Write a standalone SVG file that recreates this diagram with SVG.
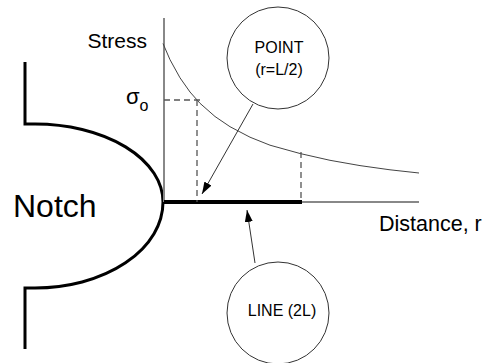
<svg xmlns="http://www.w3.org/2000/svg" width="484" height="363" viewBox="0 0 484 363">
<style>
text{font-family:"Liberation Sans",Arial,sans-serif;fill:#000}
.notch{fill:none;stroke:#000;stroke-width:3}
.axis{stroke:#888;stroke-width:2;fill:none}
.dash{stroke:#555;stroke-width:1.3;stroke-dasharray:6 4;fill:none}
.bubble{fill:#fff;stroke:#333;stroke-width:1}
.lead{stroke:#333;stroke-width:1;fill:none}
</style>
<defs>
<marker id="ah" viewBox="0 0 12 8" refX="12" refY="4" markerWidth="12" markerHeight="8" markerUnits="userSpaceOnUse" orient="auto">
<path d="M0,0 L12,4 L0,8 Z" fill="#000"/>
</marker>
</defs>
<g id="notch">
<path class="notch" d="M25,62 V124 H35 A128,78 0 0 1 163,202 A128,86 0 0 1 35,288 H25 V349"/>
<text x="13" y="217" font-size="32">Notch</text>
</g>
<g id="axes">
<path class="axis" d="M164,18 V202"/>
<path class="axis" d="M300,202 H419"/>
<path d="M164,202 H302" stroke="#000" stroke-width="4"/>
<text x="147" y="48" font-size="21" text-anchor="end">Stress</text>
<text x="379" y="231" font-size="21.5">Distance, r</text>
<text x="126" y="104" font-size="22">σ<tspan font-size="16" dy="7">o</tspan></text>
</g>
<g id="curve">
<path d="M163,43.5 L170,59.7 L180,77.8 L190,92 L200,103.3 L215,116.5 L230,126.7 L250,137.2 L270,145.2 L300,153.5 L330,160.3 L360,165.6 L390,169.8 L419,173" fill="none" stroke="#444" stroke-width="1"/>
<path class="dash" d="M164,100 H201"/>
<path class="dash" d="M197,100 V202"/>
<path class="dash" d="M301,152 V202"/>
</g>
<g id="point">
<circle class="bubble" cx="278" cy="58" r="51"/>
<text x="279" y="53" font-size="16" text-anchor="middle">POINT</text>
<text x="279" y="75" font-size="16" text-anchor="middle">(r=L/2)</text>
</g>
<g id="line">
<circle class="bubble" cx="278" cy="313" r="51"/>
<text x="282" y="316" font-size="16" text-anchor="middle">LINE (2L)</text>
</g>
<g id="connectors">
<path class="lead" d="M253,104 L202,194" marker-end="url(#ah)"/>
<path class="lead" d="M255,263 L247,210" marker-end="url(#ah)"/>
</g>
</svg>
